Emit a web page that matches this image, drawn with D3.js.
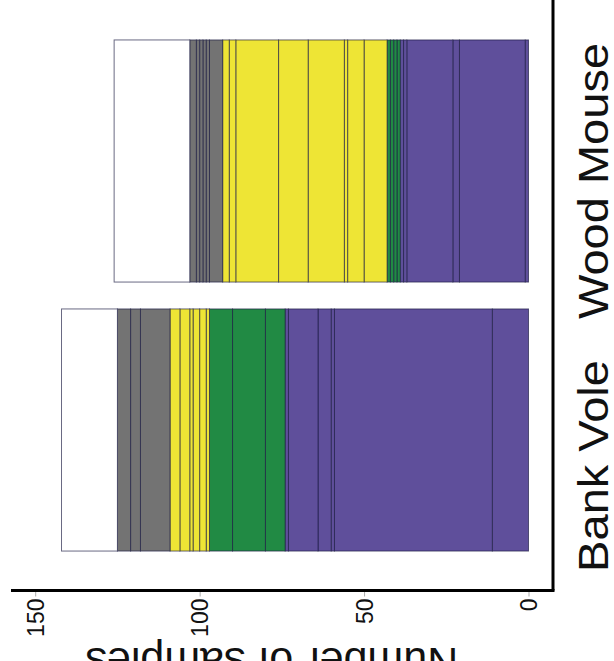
<!DOCTYPE html>
<html>
<head>
<meta charset="utf-8">
<script src="https://cdn.jsdelivr.net/npm/d3@7"></script>
<style>
  html, body { margin: 0; padding: 0; background: #fff; }
  svg { display: block; }
  text { font-family: "Liberation Sans", Arial, Helvetica, sans-serif; }
</style>
</head>
<body>
<svg id="chart" width="614" height="661"></svg>
<script>
// ---- data (segment counts, stacked from 0) ----
const categories = ["Wood Mouse", "Bank Vole"];
const groups = ["purple", "green", "yellow", "grey", "white"];
const groupColors = ["#5f4f9b", "#218a44", "#eee535", "#737373", "#ffffff"];

const bankVolePurple = [11, 48, 1, 4, 9, 1];
const bankVoleGreen  = [6, 10, 7];
const bankVoleYellow = [1, 2, 2, 1, 3, 3];
const bankVoleGrey   = [9, 3, 4];
const bankVoleWhite  = [17];

const woodMousePurple = [1, 20, 2, 14, 1, 1];
const woodMouseGreen  = [1, 1, 1, 1];
const woodMouseYellow = [7, 5, 1, 11, 9, 13, 2, 2];
const woodMouseGrey   = [4, 1, 1, 1, 1, 2];
const woodMouseWhite  = [23];

const tickValues = [0, 50, 100, 150];
const axisTitle = "Number of samples";

const segmentsByCategory = {
  "Bank Vole": [bankVolePurple, bankVoleGreen, bankVoleYellow, bankVoleGrey, bankVoleWhite],
  "Wood Mouse": [woodMousePurple, woodMouseGreen, woodMouseYellow, woodMouseGrey, woodMouseWhite]
};

// ---- build rect table ----
const rects = [];
categories.forEach(cat => {
  let cum = 0;
  segmentsByCategory[cat].forEach((arr, gi) => {
    arr.forEach(v => {
      rects.push({ cat, group: groups[gi], color: groupColors[gi], x0: cum, x1: cum + v });
      cum += v;
    });
  });
});

// ---- scales ----
const svg = d3.select("#chart");
const x = d3.scaleLinear().domain([0, 150]).range([528.5, 35.2]);
const y = d3.scaleBand().domain(categories).range([26.5, 564.5]).paddingInner(0.1).paddingOuter(0.05);
const axisY = 590.5;
const rightX = 553;

// ---- bars ----
svg.append("g").selectAll("rect").data(rects).join("rect")
  .attr("x", d => x(d.x1))
  .attr("width", d => x(d.x0) - x(d.x1))
  .attr("y", d => y(d.cat))
  .attr("height", y.bandwidth())
  .attr("fill", d => d.color)
  .attr("stroke", "#1a1a40")
  .attr("stroke-opacity", 0.65)
  .attr("stroke-width", 1);

// ---- value axis (bottom) ----
const axis = d3.axisBottom(x).tickValues(tickValues).tickSize(6).tickSizeOuter(0);
const ag = svg.append("g").attr("transform", `translate(0,${axisY})`).call(axis);
ag.select(".domain").remove();
ag.selectAll(".tick line").attr("stroke", "#aaa").attr("stroke-width", 1);
ag.selectAll(".tick text")
  .attr("transform", "rotate(-90)")
  .attr("x", -8)
  .attr("y", 8.2)
  .attr("dy", null)
  .style("text-anchor", "end")
  .style("font-size", "23px")
  .attr("fill", "#111");

// axis lines
svg.append("line").attr("x1", 11).attr("x2", rightX + 1.5).attr("y1", axisY).attr("y2", axisY)
  .attr("stroke", "#000").attr("stroke-width", 3);
svg.append("line").attr("x1", rightX).attr("x2", rightX).attr("y1", 0).attr("y2", axisY)
  .attr("stroke", "#000").attr("stroke-width", 3);

// ---- category labels (right, rotated) ----
const labelShift = i => (i === 0 ? 20 : 36);
svg.append("g").selectAll("text").data(categories).join("text")
  .attr("transform", (d, i) => `translate(608,${y(d) + y.bandwidth() / 2 + labelShift(i)}) rotate(-90) scale(1.12,1)`)
  .attr("text-anchor", "middle")
  .style("font-size", "42px")
  .attr("fill", "#111")
  .text(d => d);

// ---- axis title (upside down, bottom) ----
svg.append("text")
  .attr("transform", `translate(${(x(0) + x(150)) / 2 - 10},648) rotate(180)`)
  .attr("text-anchor", "middle")
  .style("font-size", "43px")
  .attr("fill", "#111")
  .text(axisTitle);
</script>
</body>
</html>
